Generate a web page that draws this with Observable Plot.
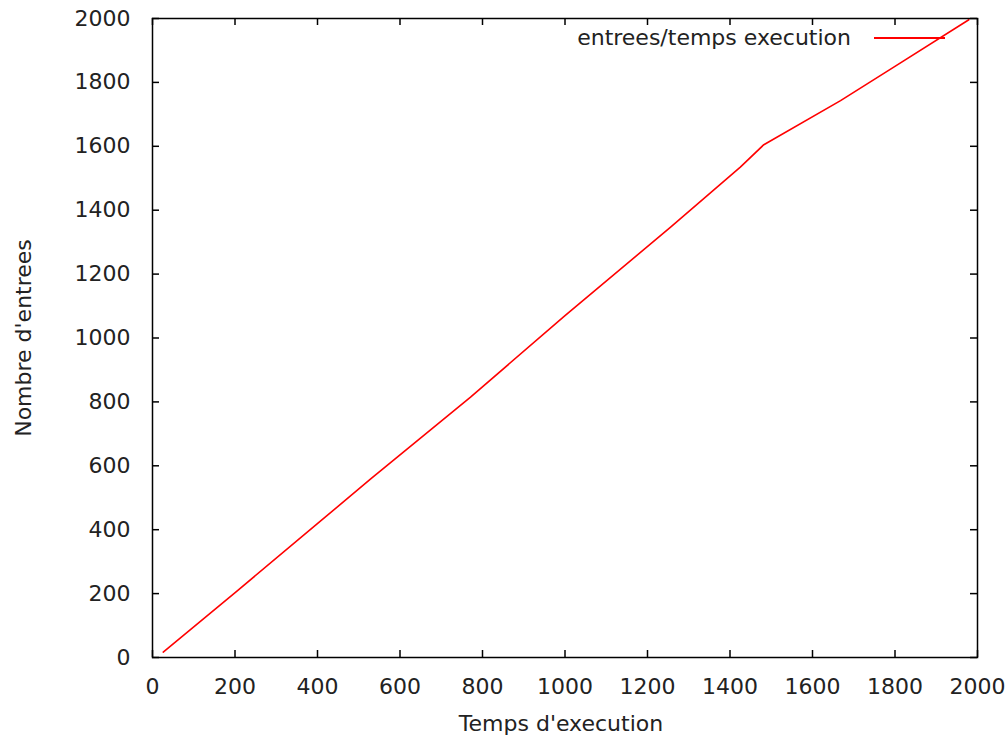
<!DOCTYPE html>
<html>
<head>
<meta charset="utf-8">
<script src="https://cdn.jsdelivr.net/npm/d3@7"></script>
<script src="https://cdn.jsdelivr.net/npm/@observablehq/plot@0.6"></script>
<style>
  html, body { margin: 0; padding: 0; background: #fff; }
  #wrap { position: relative; width: 1008px; height: 745px; }
  #legend { position: absolute; top: 25px; right: 63px; display: flex; align-items: center;
            font-family: "DejaVu Sans", sans-serif; font-size: 22px; color: #222; }
  #legend .sw { width: 71px; height: 2px; background: #ff0000; margin-left: 23px; }
</style>
</head>
<body>
<div id="wrap">
  <div id="chart"></div>
  <div id="legend"><span id="legendText"></span><span class="sw"></span></div>
</div>
<script>
// Data
const seriesName = "entrees/temps execution";
const temps   = [26, 204, 399, 529, 771, 1000, 1256, 1425, 1482, 1668, 1797, 1979];
const entrees = [17, 207, 418, 559, 815, 1070, 1347, 1535, 1605, 1743, 1848, 1996];
const xTicks = [0, 200, 400, 600, 800, 1000, 1200, 1400, 1600, 1800, 2000];
const yTicks = [0, 200, 400, 600, 800, 1000, 1200, 1400, 1600, 1800, 2000];
const xLabel = "Temps d'execution";
const yLabel = "Nombre d'entrees";

const data = temps.map((t, i) => ({t, e: entrees[i]}));

const W = 1008, H = 745;
const mL = 152, mR = 31, mT = 18, mB = 88;
const innerW = W - mL - mR, innerH = H - mT - mB;
const tickLen = 7;

const chart = Plot.plot({
  width: W, height: H,
  marginLeft: mL, marginRight: mR, marginTop: mT, marginBottom: mB,
  style: {fontFamily: "DejaVu Sans, sans-serif", fontSize: "22px", color: "#222", background: "#fff"},
  x: {domain: [0, 2000]},
  y: {domain: [0, 2000]},
  marks: [
    Plot.line(data, {x: "t", y: "e", stroke: "#ff0000", strokeWidth: 1.6}),
    // inward ticks on all four sides
    Plot.tickX(xTicks, {x: d => d, insetTop: innerH - tickLen, stroke: "#000", strokeWidth: 1.5}),
    Plot.tickX(xTicks, {x: d => d, insetBottom: innerH - tickLen, stroke: "#000", strokeWidth: 1.5}),
    Plot.tickY(yTicks, {y: d => d, insetRight: innerW - tickLen, stroke: "#000", strokeWidth: 1.5}),
    Plot.tickY(yTicks, {y: d => d, insetLeft: innerW - tickLen, stroke: "#000", strokeWidth: 1.5}),
    Plot.frame({stroke: "#000", strokeWidth: 1.5}),
    Plot.axisX({anchor: "bottom", ticks: xTicks, tickSize: 0, tickPadding: 21, tickFormat: d => String(d), label: null}),
    Plot.axisY({anchor: "left", ticks: yTicks, tickSize: 0, tickPadding: 22, tickFormat: d => String(d), label: null}),
    Plot.text([xLabel], {text: d => d, frameAnchor: "bottom", textAnchor: "middle", dx: -4, dy: 73}),
    Plot.text([yLabel], {text: d => d, frameAnchor: "left", textAnchor: "middle", dx: -129, rotate: -90})
  ]
});
document.getElementById("chart").appendChild(chart);
document.getElementById("legendText").textContent = seriesName;
</script>
</body>
</html>
